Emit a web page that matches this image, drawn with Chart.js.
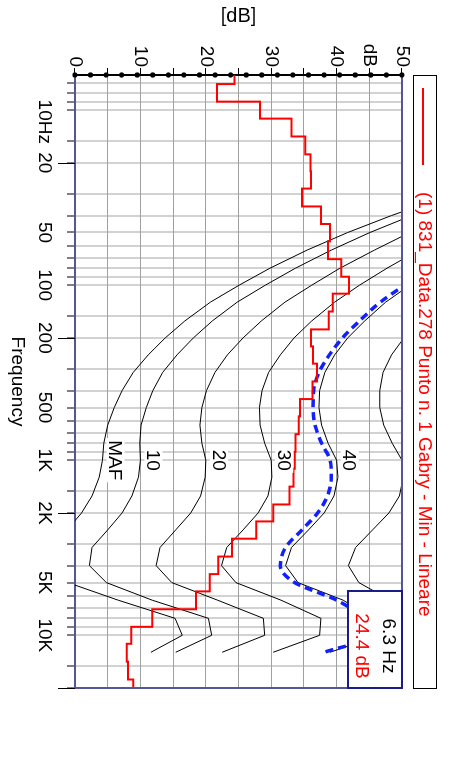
<!DOCTYPE html>
<html>
<head>
<meta charset="utf-8">
<script src="https://cdn.jsdelivr.net/npm/chart.js@4.4.0/dist/chart.umd.min.js"></script>
<style>
  html, body { margin: 0; padding: 0; overflow: hidden; background: #fff; width: 450px; height: 779px; }
  /* the chart is drawn landscape and turned a quarter clockwise */
  #wrap { position: absolute; left: 0; top: 0; width: 779px; height: 450px; transform-origin: 0 0; transform: translate(450px, 0) rotate(90deg); }
</style>
</head>
<body>
<div id="wrap"><canvas id="chart" width="779" height="450"></canvas></div>
<script>
// measured 1/3 octave spectrum
const seriesName = '(1) 831_Data.278 Punto n. 1 Gabry - Min - Lineare';
const bandFreqs = [6.3, 8, 10, 12.5, 16, 20, 25, 31.5, 40, 50, 63, 80, 100, 125, 160, 200, 250, 315, 400, 500, 630, 800, 1000, 1250, 1600, 2000, 2500, 3150, 4000, 5000, 6300, 8000, 10000, 12500, 16000, 20000];
const bandLevels = [24.4, 21.7, 28.3, 33.1, 35.2, 36.0, 36.1, 34.7, 37.6, 39.0, 38.7, 40.7, 41.9, 39.4, 38.8, 36.1, 36.4, 37.0, 36.3, 34.4, 34.2, 33.7, 33.6, 33.4, 32.8, 30.3, 27.7, 24.0, 21.9, 20.6, 18.5, 11.8, 8.6, 7.9, 8.1, 8.9];

// equal loudness contours
const contourFreqs = [20, 25, 31.5, 40, 50, 63, 80, 100, 125, 160, 200, 250, 315, 400, 500, 630, 800, 1000, 1250, 1600, 2000, 2500, 3150, 4000, 5000, 6300, 8000, 10000, 12500];
const mafLevels = [74.3, 65.0, 56.3, 48.4, 41.7, 35.5, 29.8, 25.1, 20.7, 16.8, 13.8, 11.2, 8.9, 7.2, 6.0, 5.0, 4.4, 4.2, 3.7, 2.6, 1.0, -1.2, -3.6, -3.9, -1.1, 6.6, 15.3, 16.4, 11.6];
const phon10 = [76.8, 67.7, 59.2, 51.5, 45.1, 39.2, 33.7, 29.1, 24.8, 21.0, 18.1, 15.6, 13.4, 11.9, 10.9, 10.1, 9.9, 10.0, 9.7, 8.7, 7.2, 5.0, 2.6, 2.2, 4.8, 11.8, 20.4, 20.9, 15.4];
const phon20 = [81.3, 72.5, 64.3, 57.1, 51.2, 45.8, 40.5, 36.2, 32.1, 28.5, 25.7, 23.3, 21.4, 20.1, 19.4, 19.1, 19.4, 20.0, 19.9, 19.2, 17.7, 15.4, 13.0, 12.4, 14.8, 21.8, 28.8, 29.0, 22.5];
const phon30 = [86.0, 77.6, 69.7, 62.9, 57.6, 52.6, 47.7, 43.5, 39.7, 36.2, 33.5, 31.4, 29.6, 28.6, 28.2, 28.3, 29.0, 30.0, 30.1, 29.5, 28.0, 25.7, 23.2, 22.4, 24.6, 31.5, 37.6, 37.4, 30.3];
const phon40 = [91.0, 82.9, 75.4, 69.0, 64.3, 59.7, 55.0, 51.2, 47.5, 44.3, 41.7, 39.7, 38.2, 37.4, 37.3, 37.7, 38.7, 40.0, 40.2, 39.6, 38.1, 35.7, 33.1, 32.2, 34.1, 41.0, 45.5, 46.5, 39.0];
const phon50 = [96.2, 88.5, 81.3, 75.4, 71.3, 67.1, 62.7, 59.1, 55.7, 52.7, 50.3, 48.4, 47.1, 46.6, 46.6, 47.2, 48.5, 50.0, 50.2, 49.6, 48.0, 45.5, 42.9, 41.8, 43.4, 48.2, 52.6, 56.0, 48.7];
const loudnessLevels = [90.5, 82.3, 74.8, 68.4, 63.6, 59.0, 54.3, 50.4, 46.7, 43.5, 40.9, 38.9, 37.3, 36.5, 36.4, 36.7, 37.7, 39.0, 39.2, 38.6, 37.1, 34.7, 32.2, 31.4, 33.6, 40.0, 44.2, 45.6, 38.1];
const contourNames = ['MAF', '10', '20', '30', '40'];
const contourSets = [mafLevels, phon10, phon20, phon30, phon40];

// axes
const freqTicks = [7, 8, 9, 10, 15, 20, 30, 40, 50, 60, 70, 80, 90, 100, 150, 200, 300, 400, 500, 600, 700, 800, 900, 1000, 1500, 2000, 3000, 4000, 5000, 6000, 7000, 8000, 9000, 10000, 15000, 20000];
const freqLabels = {10: '10', 20: '20', 50: '50', 100: '100', 200: '200', 500: '500', 1000: '1K', 2000: '2K', 5000: '5K', 10000: '10K'};
const majorFreqs = [20, 200, 2000, 20000];
const dbLabels = {0: '0', 10: '10', 20: '20', 30: '30', 40: '40', 45: 'dB', 50: '50'};

const FONT = "'Liberation Sans', Arial, sans-serif";
const FRAME = '#55559a';

function pts(xs, ys) {
    return xs.map((x, i) => ({x: x, y: ys[i]}));
}

function contour(levels) {
    return {
        data: pts(contourFreqs, levels),
        borderColor: '#000',
        borderWidth: 1,
        pointRadius: 0,
        tension: 0
    };
}

const decorations = {
    id: 'decorations',
    afterDatasetsDraw(chart) {
        const ctx = chart.ctx;
        const ca = chart.chartArea;
        const xs = chart.scales.x;
        const ys = chart.scales.y;
        ctx.save();

        // frame on the far sides
        ctx.strokeStyle = FRAME;
        ctx.lineWidth = 2;
        ctx.beginPath();
        ctx.moveTo(ca.left, ca.top);
        ctx.lineTo(ca.right, ca.top);
        ctx.lineTo(ca.right, ca.bottom);
        ctx.stroke();

        // dotted level axis
        ctx.fillStyle = '#000';
        for (let i = 0; i <= 21; i++) {
            const y = ca.bottom - (ca.bottom - ca.top) * i / 21;
            ctx.beginPath();
            ctx.arc(ca.left, y, 2.6, 0, Math.PI * 2);
            ctx.fill();
        }

        // long ticks on 20 / 200 / 2K / 20K
        ctx.strokeStyle = '#000';
        ctx.lineWidth = 1;
        majorFreqs.forEach(f => {
            const x = Math.round(xs.getPixelForValue(f)) + 0.5;
            ctx.beginPath();
            ctx.moveTo(x, ca.bottom);
            ctx.lineTo(x, ca.bottom + 17);
            ctx.stroke();
        });

        // contour labels at 1 kHz
        const k = contourFreqs.indexOf(1000);
        ctx.font = '19px ' + FONT;
        ctx.textAlign = 'center';
        ctx.textBaseline = 'middle';
        contourNames.forEach((name, i) => {
            const x = xs.getPixelForValue(1000);
            const y = ys.getPixelForValue(contourSets[i][k] + 2);
            const w = ctx.measureText(name).width;
            ctx.fillStyle = '#fff';
            ctx.fillRect(x - w / 2 - 2, y - 9, w + 4, 18);
            ctx.fillStyle = '#000';
            ctx.fillText(name, x, y + 1);
        });

        // cursor read-out box
        const bx = ca.right - 97, by = ca.top, bw = 97, bh = 54;
        ctx.fillStyle = '#fff';
        ctx.fillRect(bx, by, bw, bh);
        ctx.strokeStyle = '#1c1c88';
        ctx.lineWidth = 2;
        ctx.strokeRect(bx, by, bw, bh);
        ctx.fillStyle = '#000';
        ctx.fillText(bandFreqs[0] + ' Hz', bx + 55, by + 14);
        ctx.fillStyle = '#ff0000';
        ctx.fillText(bandLevels[0].toFixed(1) + ' dB', bx + 55, by + 41);

        // "Hz" after the 10 label
        const item = xs.getLabelItems().find(it => it.label === '10');
        if (item) {
            const [tx, ty] = item.options.translation;
            ctx.font = '19px ' + FONT;
            ctx.fillStyle = '#000';
            ctx.textAlign = 'left';
            ctx.textBaseline = item.options.textBaseline;
            ctx.fillText('Hz', tx + ctx.measureText('10').width / 2, ty + item.textOffset);
        }

        // legend
        ctx.strokeStyle = '#000';
        ctx.lineWidth = 1;
        ctx.strokeRect(ca.left + 0.5, 13.5, ca.right - ca.left, 23);
        ctx.strokeStyle = '#ff0000';
        ctx.lineWidth = 2;
        ctx.beginPath();
        ctx.moveTo(88, 27);
        ctx.lineTo(165, 27);
        ctx.stroke();
        ctx.fillStyle = '#ff0000';
        ctx.textAlign = 'left';
        ctx.textBaseline = 'middle';
        ctx.fillText(seriesName, 192, 26);

        ctx.restore();
    }
};

const myChart = new Chart(document.getElementById('chart'), {
    type: 'line',
    data: {
        datasets: [
            {
                data: pts(bandFreqs, bandLevels),
                stepped: 'middle',
                borderColor: '#ff0000',
                borderWidth: 2,
                pointRadius: 0
            },
            {
                data: pts(contourFreqs, loudnessLevels),
                borderColor: '#1020ff',
                borderWidth: 3.5,
                borderDash: [8, 5],
                pointRadius: 0,
                cubicInterpolationMode: 'monotone'
            },
            contour(mafLevels),
            contour(phon10),
            contour(phon20),
            contour(phon30),
            contour(phon40),
            contour(phon50)
        ]
    },
    options: {
        responsive: false,
        devicePixelRatio: 1,
        animation: false,
        layout: {padding: {left: 0, top: 48, right: 91, bottom: 0}},
        plugins: {legend: {display: false}, tooltip: {enabled: false}},
        scales: {
            x: {
                type: 'logarithmic',
                min: 6.3,
                max: 20000,
                afterBuildTicks: s => { s.ticks = freqTicks.map(v => ({value: v})); },
                afterFit: s => { s.height = 75; },
                ticks: {
                    autoSkip: false,
                    maxRotation: 0,
                    minRotation: 0,
                    padding: 11,
                    color: '#000',
                    font: {size: 19, family: FONT},
                    callback: v => freqLabels[v] || ''
                },
                grid: {color: '#d2d2d2', lineWidth: 2, tickColor: '#000', tickLength: 8, tickWidth: 1},
                border: {color: FRAME, width: 2},
                title: {display: true, text: 'Frequency', color: '#000', font: {size: 19, family: FONT}, padding: {top: 0, bottom: 6}}
            },
            y: {
                type: 'linear',
                min: 0,
                max: 50,
                afterFit: s => { s.width = 75; },
                ticks: {
                    stepSize: 5,
                    padding: 1,
                    color: '#000',
                    font: {size: 19, family: FONT},
                    callback: v => dbLabels[v] !== undefined ? dbLabels[v] : ''
                },
                grid: {color: '#a0a0a0', lineWidth: 1, tickColor: '#000', tickLength: 7},
                border: {color: '#000', width: 2},
                title: {display: true, text: '[dB]', color: '#000', font: {size: 20, family: FONT}, padding: {top: 4, bottom: 0}}
            }
        }
    },
    plugins: [decorations]
});
</script>
</body>
</html>
